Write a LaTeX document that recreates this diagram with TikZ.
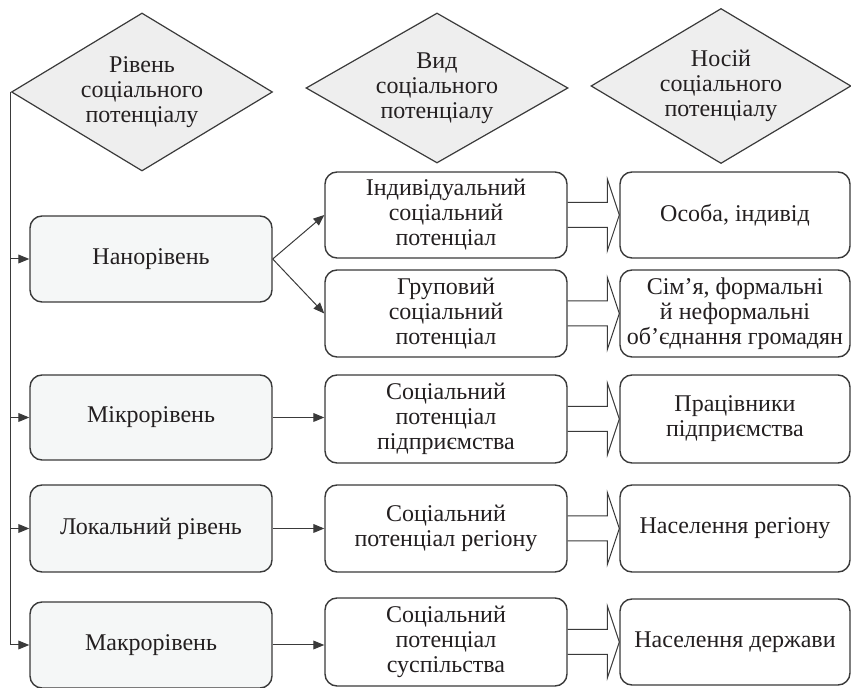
\documentclass[tikz,border=0pt]{standalone}
\usepackage{fontspec}
\setmainfont{Liberation Serif}
\usetikzlibrary{arrows.meta,calc,positioning}
\usetikzlibrary{shapes.geometric}

\definecolor{ink}{HTML}{231F20}
\definecolor{edge}{HTML}{3A3A3A}
\definecolor{rhombfill}{HTML}{EEEEEE}
\definecolor{levelfill}{HTML}{F5F7F7}

% hollow (double) arrow between two boxes of one row
\newcommand\hollowarrow[2]{%
  \draw[edge, line width=0.5pt] ($(#1.east)+(0,-12.5)$) -- ($(#2.west)+(-12,-12.5)$)
     -- ($(#2.west)+(-12,-36)$) -- (#2.west) -- ($(#2.west)+(-12,36)$)
     -- ($(#2.west)+(-12,12.5)$) -- ($(#1.east)+(0,12.5)$);}

\begin{document}
\begin{tikzpicture}[%
    >={Triangle[length=5.5pt,width=4.4pt]},   % filled arrow tips
    x=0.5pt,
    y=-0.5pt,
    every node/.style={font=\fontsize{12}{12.5}\selectfont, text=ink, align=center},
    rhombus/.style={shape=diamond, draw=edge, fill=rhombfill, line width=0.6pt,
        inner sep=0pt, aspect=1.65},
    box/.style={draw=edge, rounded corners=6pt, line width=0.7pt, minimum width=121pt},
    level/.style={box, fill=levelfill},
    kind/.style={box, fill=white},
    bearer/.style={box, fill=white, minimum width=115pt},
    link/.style={->, draw=edge, line width=0.5pt}
    ]

    \useasboundingbox (0,0) rectangle (851,688);

    % headers
    \node[rhombus, minimum width=130.5pt, minimum height=79pt] at (142,92) (hlevel)
        {Рівень\\соціального\\потенціалу};
    \node[rhombus, minimum width=131pt, minimum height=75pt] at (437,88) (hkind)
        {Вид\\соціального\\потенціалу};
    \node[rhombus, minimum width=130pt, minimum height=77.5pt] at (721,86) (hbearer)
        {Носій\\соціального\\потенціалу};

    % levels
    \node[level, minimum height=43pt] at (151,259) (nano) {Нанорівень};
    \node[level, minimum height=42.5pt] at (151,417.5) (micro) {Мікрорівень};
    \node[level, minimum height=43.5pt] at (151,528.5) (local) {Локальний рівень};
    \node[level, minimum height=43pt] at (151,645) (macro) {Макрорівень};

    % kinds
    \node[kind, minimum height=43pt] at (446,215) (indiv)
        {Індивідуальний\\соціальний\\потенціал};
    \node[kind, minimum height=43.5pt] at (446,313.5) (group)
        {Груповий\\соціальний\\потенціал};
    \node[kind, minimum height=44pt] at (446,419) (firm)
        {Соціальний\\потенціал\\підприємства};
    \node[kind, minimum height=43.5pt] at (446,528.5) (region)
        {Соціальний\\потенціал регіону};
    \node[kind, minimum height=44pt] at (446,642) (society)
        {Соціальний\\потенціал\\суспільства};

    % bearers
    \node[bearer, minimum height=43pt] at (735,215) (person) {Особа, індивід};
    \node[bearer, minimum height=43.5pt] at (735,313.5) (family)
        {Сім’я, формальні\\й неформальні\\об’єднання громадян};
    \node[bearer, minimum height=44pt] at (735,419) (workers)
        {Працівники\\підприємства};
    \node[bearer, minimum height=43.5pt] at (735,528.5) (popreg) {Населення регіону};
    \node[bearer, minimum height=43pt] at (735,642) (popstate) {Населення держави};

    % left spine
    \draw[edge, line width=0.5pt] (hlevel.west) -- (hlevel.west |- macro.west);
    \foreach \lv in {nano,micro,local,macro}
        \draw[link] (hlevel.west |- \lv.west) -- (\lv.west);

    % levels to kinds
    \draw[link] (nano.east) -- (indiv.west);
    \draw[link] (nano.east) -- (group.west);
    \draw[link] (micro.east) -- (micro.east -| firm.west);
    \draw[link] (local.east) -- (local.east -| region.west);
    \draw[link] (macro.east) -- (macro.east -| society.west);

    % kinds to bearers
    \hollowarrow{indiv}{person}
    \hollowarrow{group}{family}
    \hollowarrow{firm}{workers}
    \hollowarrow{region}{popreg}
    \hollowarrow{society}{popstate}
\end{tikzpicture}
\end{document}
